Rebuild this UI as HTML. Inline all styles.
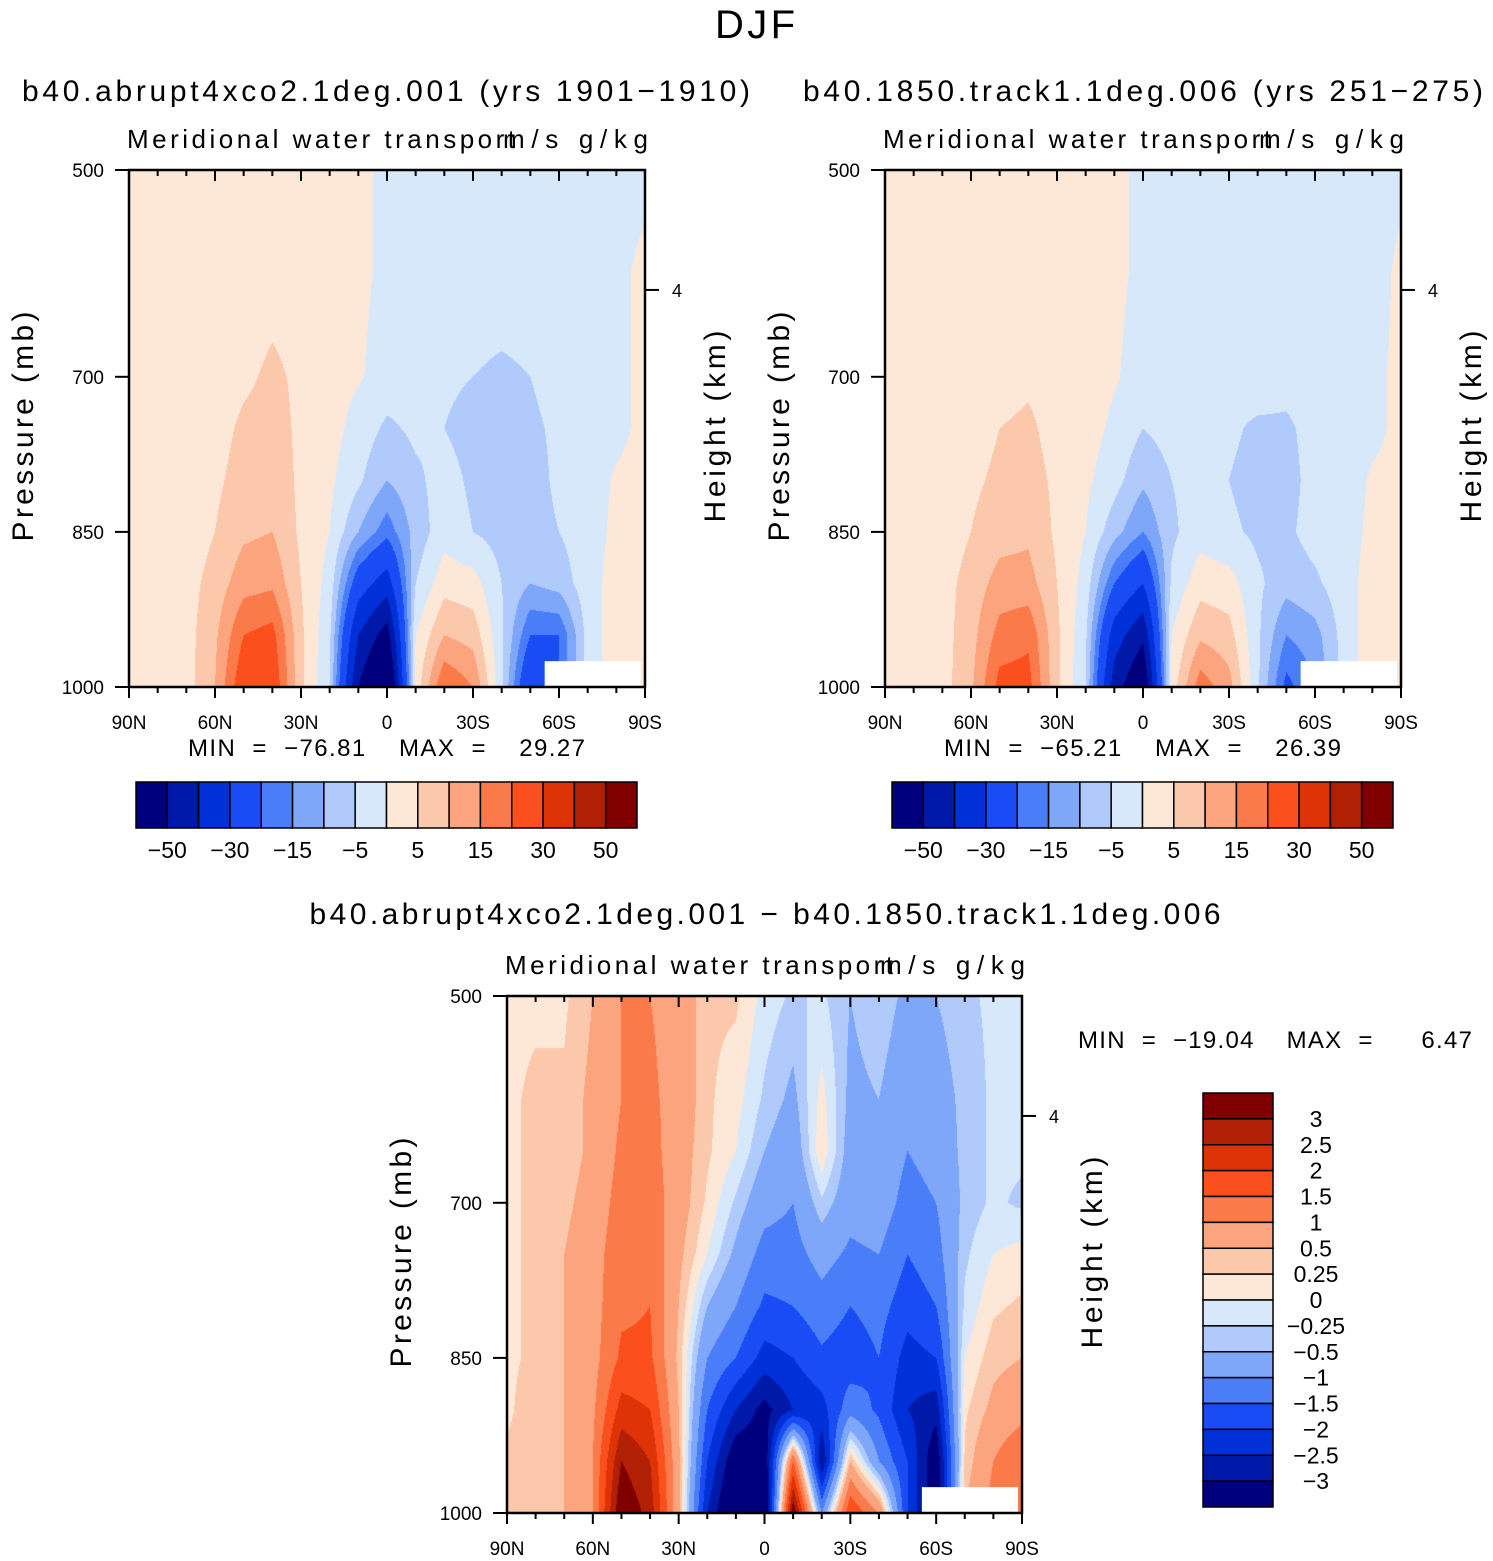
<!DOCTYPE html>
<html><head><meta charset="utf-8">
<style>
html,body{margin:0;padding:0;background:#fff;}
#root{position:relative;width:1493px;height:1561px;overflow:hidden;font-family:"Liberation Sans",sans-serif;}
canvas{position:absolute;}
svg{position:absolute;left:0;top:0;}
svg text{font-family:"Liberation Sans",sans-serif;fill:#000;white-space:pre;}
</style></head>
<body>
<div id="root">
<canvas id="c1"></canvas>
<canvas id="c2"></canvas>
<canvas id="c3"></canvas>
<svg id="ov" width="1493" height="1561"></svg>
</div>
<script>
// ---- data ----
const lats = [90,80,70,60,50,40,30,20,10,0,-10,-20,-30,-40,-50,-60,-70,-80,-90];
const plevs = [500,600,650,700,750,800,850,900,950,1000];
const latTicks = [90,60,30,0,-30,-60,-90];
const latTickLabels = ["90N","60N","30N","0","30S","60S","90S"];
const pTicks = [500,700,850,1000];
const levelsAbs = [-50,-40,-30,-20,-15,-10,-5,0,5,10,15,20,30,40,50];
const levelsAbsLabels = ["\u221250","\u221230","\u221215","\u22125","5","15","30","50"];
const levelsDiff = [-3,-2.5,-2,-1.5,-1,-0.5,-0.25,0,0.25,0.5,1,1.5,2,2.5,3];
const levelsDiffLabels = ["\u22123","\u22122.5","\u22122","\u22121.5","\u22121","\u22120.5","\u22120.25","0","0.25","0.5","1","1.5","2","2.5","3"];
const colors = ["#00007f","#0019a8","#0030d8","#1a4cf5","#4a7ef8","#7ea6f9","#b0cbfb","#d7e8fb","#fde8d8","#fcc8ab","#fba47d","#fb7a4a","#fb4f1d","#de3306","#b11f04","#800000"];
const missing = [-55,-90,975]; // lat from, lat to, pressure below which data missing

const gridA = [
[1,1,1,1,2,2,2,2,1,-1,-2,-2,-2,-2,-2,-2,-2,-2,-1],
[1,1,1,1,2,3,3,2,1,-1,-2,-2,-2,-2,-2,-2,-2,-1,1],
[1,1,1,2,4,6,4,2,0.5,-2,-3,-4,-5,-6,-5,-3,-2,-1,1],
[1,1,1,3,6,7,4,2,-2,-6,-4,-5,-7,-8,-6,-4,-2,-1,1],
[1,1,2,4,7,8,4,1,-4,-10,-6,-3,-6,-8,-7,-4,-2,0.5,1],
[1,1,2,5,9,10,4,0,-10,-18,-8,-2,-5,-7,-7,-5,-2,1,2],
[1,1,3,7,13,14,5,-2,-25,-35,-5,3,2,-5,-10,-8,-2,2,3],
[1,1,3,9,20,22,6,-4,-40,-55,0,10,8,-4,-20,-20,-3,3,4],
[1,1,3,10,25,25,6,-5,-50,-70,2,20,15,-4,-30,-20,-3,3,3]];
const gridB = [
[2,2,2,2,2,2,2,2,1,-1,-2,-2,-2,-2,-2,-2,-2,-2,-1],
[2,2,2,2,2,2,2,2,1,-1,-2,-2,-2,-2,-2,-2,-2,-2,1],
[2,2,2,2,3,4,3,2,0.5,-2,-2,-2,-3,-2,-3,-2,-2,-1,1],
[2,2,2,3,5,6,3,2,-1,-5,-3,-3,-4,-6,-6,-3,-2,-1,1],
[2,2,2,4,6,7,4,1,-3,-9,-5,-3,-5,-7,-7,-3,-2,0.5,1],
[2,2,2,5,8,9,4,0,-8,-15,-6,-2,-4,-6,-6,-3,-2,1,2],
[2,2,3,7,12,12,5,-2,-20,-30,-4,3,2,-4,-8,-6,-2,2,3],
[2,2,3,8,17,19,6,-4,-35,-48,0,9,7,-4,-15,-12,-3,3,4],
[2,2,3,9,22,22,6,-5,-45,-62,2,18,12,-4,-22,-15,-3,3,3]];
const gridD = [
[0.2,0.2,0.2,0.5,1,1,0.8,0.3,0.3,-0.1,-0.3,-0.2,-0.5,-0.3,-0.6,-0.5,-0.3,-0.2,-0.2],
[0.2,0.3,0.3,0.6,1,1.1,0.8,0.3,0.1,-0.3,-0.6,0.1,-0.6,-0.5,-0.8,-0.7,-0.4,-0.2,-0.2],
[0.2,0.3,0.3,0.6,1.1,1.2,0.7,0.3,0,-0.5,-0.8,0.2,-0.7,-0.6,-1,-0.8,-0.4,-0.2,-0.2],
[0.2,0.3,0.4,0.7,1.2,1.3,0.7,0.2,-0.3,-0.8,-1,-0.3,-0.8,-0.7,-1.2,-1,-0.4,-0.2,-0.3],
[0.2,0.3,0.5,0.8,1.3,1.4,0.6,0,-0.6,-1.2,-1.2,-0.8,-1.1,-1,-1.5,-1.2,-0.3,0,0.1],
[0.2,0.3,0.5,0.8,1.4,1.5,0.5,-0.5,-1,-1.6,-1.5,-1.2,-1.5,-1.3,-1.8,-1.5,-0.2,0.2,0.3],
[0.2,0.3,0.5,0.8,1.6,1.6,0.4,-1,-1.5,-2.2,-2,-1.6,-1.8,-1.5,-2.2,-2,0,0.4,0.5],
[0.2,0.4,0.5,0.9,2.2,2,0.5,-1.5,-2.5,-3.2,-2.5,-2.2,-1.2,-1.6,-2.5,-2.8,0.2,0.6,0.8],
[0.3,0.4,0.5,1,3,2.5,0.6,-2,-3.5,-3.5,1.5,-3,0.5,-1,-2,-3.5,0.3,1,1.5],
[0.3,0.4,0.5,1,3.5,2.8,0.6,-2.5,-4,-4,3.5,-1,2,1,-2,-3.5,0.5,1.2,1.5]];
const plevsAB = [500,600,700,750,800,850,900,950,1000];

const NS="http://www.w3.org/2000/svg";
const ov=document.getElementById('ov');
function mk(tag,attrs,parent){const e=document.createElementNS(NS,tag);for(const k in attrs)e.setAttribute(k,attrs[k]);(parent||ov).appendChild(e);return e;}
function txt(x,y,s,size,anchor,parent,len){const a={x:x,y:y,'font-size':size,'text-anchor':anchor||'middle'};if(len){a.textLength=len;a.lengthAdjust='spacing';}const t=mk('text',a,parent);t.textContent=s;return t;}

function colorIdx(v,lv){let i=0;while(i<lv.length&&v>=lv[i])i++;return i;}
function hex(c){return [parseInt(c.slice(1,3),16),parseInt(c.slice(3,5),16),parseInt(c.slice(5,7),16)];}
const rgb=colors.map(hex);

function interp(grid,pl,lat,p){
  let fi=(90-lat)/10; let i0=Math.min(Math.floor(fi),lats.length-2); let tx=fi-i0;
  let j0=0; while(j0<pl.length-2&&p>pl[j0+1])j0++;
  let ty=(p-pl[j0])/(pl[j0+1]-pl[j0]);
  const a=grid[j0][i0],b=grid[j0][i0+1],c=grid[j0+1][i0],d=grid[j0+1][i0+1];
  return (a*(1-tx)+b*tx)*(1-ty)+(c*(1-tx)+d*tx)*ty;
}

function panel(cfg){
  const {x0,y0,w,h,grid,pl,lv,cid,name}=cfg;
  const X=lat=>x0+(90-lat)/180*w;
  const Y=p=>y0+(p-500)/500*h;
  const cv=document.getElementById(cid);
  cv.width=w;cv.height=h;cv.style.left=x0+'px';cv.style.top=y0+'px';
  const ctx=cv.getContext('2d');const img=ctx.createImageData(w,h);
  for(let py=0;py<h;py++){const p=500+(py+0.5)/h*500;
    for(let px=0;px<w;px++){const lat=90-(px+0.5)/w*180;
      const v=interp(grid,pl,lat,p);const c=rgb[colorIdx(v,lv)];const k=(py*w+px)*4;
      img.data[k]=c[0];img.data[k+1]=c[1];img.data[k+2]=c[2];img.data[k+3]=255;}}
  ctx.putImageData(img,0,0);
  const m=mk('rect',{x:X(missing[0]),y:Y(missing[2]),width:X(missing[1])-X(missing[0])-4,height:Y(1000)-Y(missing[2]),fill:'#fff'});
  
  
  const g=mk('g',{});
  
  
  mk('rect',{x:x0,y:y0,width:w,height:h,fill:'none',stroke:'#000','stroke-width':2.5},g);
  for(let lat=90;lat>=-90;lat-=10){const major=lat%30===0;const x=X(lat);
    mk('line',{x1:x,x2:x,y1:y0,y2:y0+(major?11:6),stroke:'#000','stroke-width':2},g);
    mk('line',{x1:x,x2:x,y1:y0+h,y2:y0+h+(major?11:6),stroke:'#000','stroke-width':2},g);}
  latTicks.forEach((lat,i)=>{const t=txt(X(lat),y0+h+42,latTickLabels[i],19,'middle',g);
    
    });
  pTicks.forEach(p=>{mk('line',{x1:x0-14,x2:x0,y1:Y(p),y2:Y(p),stroke:'#000','stroke-width':2},g);
    const t=txt(x0-25,Y(p)+7,String(p),19,'end',g);
    
    });
  const y4=Y(616);
  mk('line',{x1:x0+w,x2:x0+w+14,y1:y4,y2:y4,stroke:'#000','stroke-width':2},g);
  txt(x0+w+32,y4+7,'4',18,'middle',g);
  txt(x0-2,y0-22,'Meridional water transport',26,'start',g,388);
  txt(x0+w+3,y0-22,'m/s g/kg',26,'end',g,145);
  const yl=txt(0,0,'Pressure (mb)',30,'middle',g,230);
  yl.setAttribute('transform','translate('+(x0-96)+','+(y0+h/2-2)+') rotate(-90)');
  
  
  const hl=txt(0,0,'Height (km)',30,'middle',g,192);
  hl.setAttribute('transform','translate('+(x0+w+80)+','+(y0+h/2-2)+') rotate(-90)');
  
  
}

function hbar(x0,y0,w,h,name){
  const g=mk('g',{});
  
  
  const bw=w/colors.length;
  colors.forEach((c,i)=>{const r=mk('rect',{x:x0+i*bw,y:y0,width:bw,height:h,fill:c,stroke:'#000','stroke-width':1.5},g);
    
    });
  levelsAbsLabels.forEach((s,i)=>{const t=txt(x0+(2*i+1)*bw,y0+h+30,s,23,'middle',g);
    
    });
}
function vbar(x0,y0,w,h,name){
  const g=mk('g',{});
  
  
  const bh=h/colors.length;
  colors.slice().reverse().forEach((c,i)=>{const r=mk('rect',{x:x0,y:y0+i*bh,width:w,height:bh,fill:c,stroke:'#000','stroke-width':1.5},g);
    
    });
  levelsDiffLabels.slice().reverse().forEach((s,i)=>{const t=txt(x0+113,y0+(i+1)*bh+8,s,23,'middle',g);
    
    });
}

const title=txt(755,38,'DJF',40,'middle',null,80);


const t1=txt(386,101,'b40.abrupt4xco2.1deg.001 (yrs 1901\u22121910)',30,'middle',null,728);


const t2=txt(1143,101,'b40.1850.track1.1deg.006 (yrs 251\u2212275)',30,'middle',null,680);


const t3=txt(765,924,'b40.abrupt4xco2.1deg.001 \u2212 b40.1850.track1.1deg.006',30,'middle',null,911);



panel({x0:129,y0:170,w:516,h:517,grid:gridA,pl:plevsAB,lv:levelsAbs,cid:'c1',name:'panel1'});
panel({x0:885,y0:170,w:516,h:517,grid:gridB,pl:plevsAB,lv:levelsAbs,cid:'c2',name:'panel2'});
panel({x0:507,y0:996,w:515,h:517,grid:gridD,pl:plevs,lv:levelsDiff,cid:'c3',name:'panel3'});

const s1=txt(188,756,'MIN  =  \u221276.81    MAX  =    29.27',24,'start',null,397);


const s2=txt(944,756,'MIN  =  \u221265.21    MAX  =    26.39',24,'start',null,397);


const s3=txt(1078,1048,'MIN  =  \u221219.04    MAX  =      6.47',24,'start',null,394);



hbar(136,782,501,46,'panel1-colorbar');
hbar(892,782,501,46,'panel2-colorbar');
vbar(1203,1093,70,414,'panel3-colorbar');
</script>
</body></html>
